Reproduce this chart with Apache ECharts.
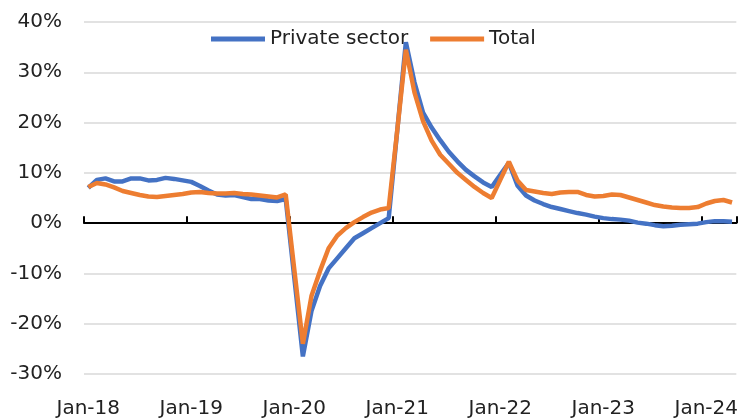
<!DOCTYPE html>
<html>
<head>
<meta charset="utf-8">
<script src="https://cdn.jsdelivr.net/npm/echarts@6/dist/echarts.min.js"></script>
<style>
  html, body { margin: 0; padding: 0; background: #fff; }
  #chart { width: 741px; height: 419px; }
</style>
</head>
<body>
<div id="chart"></div>
<script>
// monthly categories Jan-18 .. Apr-24
const monthNames = ['Jan', 'Feb', 'Mar', 'Apr', 'May', 'Jun', 'Jul', 'Aug', 'Sep', 'Oct', 'Nov', 'Dec']
const years = ['18', '19', '20', '21', '22', '23', '24']
const months = []
years.forEach(y => monthNames.forEach(m => months.push(m + '-' + y)))
months.length = 76

const privateSector = [
  7.0, 8.6, 8.9, 8.3, 8.3, 8.9, 8.9, 8.5, 8.6, 9.0, 8.8, 8.5,
  8.2, 7.4, 6.5, 5.7, 5.5, 5.6, 5.2, 4.8, 4.8, 4.5, 4.4, 4.8,
  -10.8, -26.5, -17.5, -12.5, -9.0, -7.0, -5.0, -3.0, -2.0, -1.0, 0.0, 1.0,
  18.5, 36.0, 28.0, 22.0, 19.0, 16.5, 14.2, 12.3, 10.6, 9.3, 8.1, 7.2,
  9.6, 12.0, 7.5, 5.5, 4.5, 3.8, 3.2, 2.8, 2.4, 2.0, 1.7, 1.3,
  1.0, 0.8, 0.7, 0.5, 0.1, -0.1, -0.4, -0.6, -0.5, -0.3, -0.2, -0.1,
  0.2, 0.4, 0.4, 0.3
]
const total = [
  7.2, 8.0, 7.7, 7.1, 6.4, 6.0, 5.6, 5.3, 5.2, 5.4, 5.6, 5.8,
  6.1, 6.2, 6.0, 5.9, 5.9, 6.0, 5.8, 5.7, 5.5, 5.3, 5.1, 5.7,
  -9.2, -24.0, -14.5, -9.5, -5.0, -2.5, -1.0, 0.2, 1.2, 2.1, 2.7, 3.0,
  18.5, 34.5, 26.0, 20.3, 16.4, 13.6, 11.8, 10.0, 8.6, 7.2, 6.0, 5.0,
  8.6, 12.2, 8.5, 6.6, 6.3, 6.0, 5.8, 6.1, 6.2, 6.2, 5.6, 5.3,
  5.4, 5.7, 5.6, 5.1, 4.6, 4.1, 3.6, 3.3, 3.1, 3.0, 3.0, 3.2,
  3.9, 4.4, 4.6, 4.1
]

const fontFamily = 'DejaVu Sans'
const isJan = index => index % 12 === 0

const chart = echarts.init(document.getElementById('chart'))

const option = {
  animation: false,
  textStyle: { fontFamily: fontFamily },
  legend: {
    data: ['Private sector', 'Total'],
    left: 211,
    top: 29,
    padding: 0,
    z: 1,
    icon: 'rect',
    itemWidth: 54,
    itemHeight: 5,
    itemGap: 22,
    textStyle: { fontFamily: fontFamily, fontSize: 20, color: '#222' }
  },
  grid: {
    left: 84,
    right: -1,
    top: 22,
    bottom: 42
  },
  xAxis: [
    {
      type: 'category',
      data: months,
      position: 'bottom',
      boundaryGap: true,
      axisLine: { show: false, onZero: false },
      axisTick: { show: false },
      splitLine: { show: false },
      axisLabel: {
        interval: isJan,
        margin: 25,
        fontSize: 20,
        color: '#222',
        fontFamily: fontFamily
      }
    },
    {
      type: 'category',
      data: months,
      position: 'top',
      boundaryGap: true,
      axisLine: { show: true, onZero: true, lineStyle: { color: '#000', width: 2 } },
      axisTick: { show: true, interval: isJan, inside: false, length: 7, lineStyle: { color: '#000', width: 2 } },
      axisLabel: { show: false },
      splitLine: { show: false }
    }
  ],
  yAxis: {
    type: 'value',
    min: -30,
    max: 40,
    interval: 10,
    axisLine: { show: false },
    axisTick: { show: false },
    splitLine: { lineStyle: { color: '#d9d9d9', width: 1.5 } },
    axisLabel: {
      formatter: '{value}%',
      margin: 22,
      fontSize: 20,
      color: '#222',
      fontFamily: fontFamily
    }
  },
  series: [
    {
      name: 'Private sector',
      type: 'line',
      xAxisIndex: 0,
      data: privateSector,
      showSymbol: false,
      symbol: 'none',
      itemStyle: { color: '#4472C4' },
      lineStyle: { color: '#4472C4', width: 4.5 },
      z: 3
    },
    {
      name: 'Total',
      type: 'line',
      xAxisIndex: 0,
      data: total,
      showSymbol: false,
      symbol: 'none',
      itemStyle: { color: '#ED7D31' },
      lineStyle: { color: '#ED7D31', width: 4.5 },
      z: 4
    }
  ]
}

chart.setOption(option)
</script>
</body>
</html>
